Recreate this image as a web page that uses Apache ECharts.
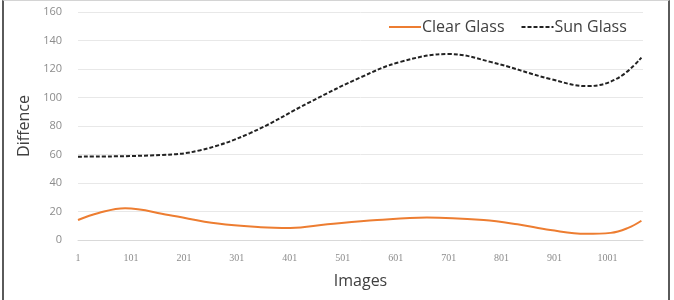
<!DOCTYPE html>
<html>
<head>
<meta charset="utf-8">
<script src="https://cdn.jsdelivr.net/npm/echarts@6/dist/echarts.min.js"></script>
<style>
  body { margin: 0; background: #fff; }
  #wrap { position: relative; width: 674px; height: 300px; }
  #main { width: 674px; height: 300px; }
  #frame {
    position: absolute; left: 2px; top: 0; width: 664px; height: 300px;
    border-left: 2px solid #5a5a5a; border-right: 2px solid #5a5a5a;
    border-top: 1px solid #d4d4d4; pointer-events: none;
  }
</style>
</head>
<body>
<div id="wrap">
  <div id="main"></div>
  <div id="frame"></div>
</div>
<script>
// image index / value pairs
var clearX = [1, 40, 90, 172, 265, 346, 402, 472, 566, 660, 767, 831, 893, 960, 1007, 1040, 1065];
var clearY = [14, 19, 22.3, 17.5, 11.5, 9, 8.5, 11, 14, 15.8, 14, 11, 7, 4.3, 5, 8.5, 13.5];
var sunX = [1, 156, 232, 326, 440, 534, 610, 701, 780, 893, 963, 1020, 1065];
var sunY = [58.5, 59.6, 63, 75, 97, 114, 125, 130.5, 125, 113, 108, 113.5, 128];

function pairs(xs, ys) {
  var out = [];
  for (var i = 0; i < xs.length; i++) out.push([xs[i], ys[i]]);
  return out;
}

var myChart = echarts.init(document.getElementById('main'));
var option = {
  animation: false,
  grid: { left: 78, right: 31, top: 12, bottom: 60 },
  legend: {
    left: 383,
    top: 14,
    itemWidth: 32,
    itemHeight: 14,
    itemGap: 16,
    itemStyle: { opacity: 0 },
    textStyle: { fontSize: 16, color: '#404040', fontFamily: 'Open Sans', padding: [0, 0, 0, -4] },
    data: ['Clear Glass', 'Sun Glass']
  },
  xAxis: {
    type: 'value',
    min: 1,
    max: 1068,
    interval: 100,
    name: 'Images',
    nameLocation: 'middle',
    nameGap: 33,
    nameTextStyle: { fontSize: 16, color: '#404040', fontFamily: 'Open Sans' },
    axisLine: { show: true, lineStyle: { color: '#d9d9d9' } },
    axisTick: { show: false },
    splitLine: { show: false },
    axisLabel: {
      showMaxLabel: false,
      margin: 13,
      fontSize: 10,
      color: '#8c8c8c',
      fontFamily: 'Liberation Serif',
      formatter: function (v) { return String(v); }
    }
  },
  yAxis: {
    type: 'value',
    min: 0,
    max: 160,
    interval: 20,
    name: 'Diffence',
    nameLocation: 'middle',
    nameGap: 38,
    nameTextStyle: { fontSize: 16, color: '#404040', fontFamily: 'Open Sans' },
    axisLine: { show: false },
    axisTick: { show: false },
    axisLabel: { margin: 16, fontSize: 11, color: '#8c8c8c', fontFamily: 'Open Sans' },
    splitLine: { lineStyle: { color: '#e8e8e8' } }
  },
  series: [
    {
      name: 'Clear Glass',
      type: 'line',
      smooth: 0.4,
      symbol: 'none',
      itemStyle: { color: '#ED7D31' },
      lineStyle: { color: '#ED7D31', width: 2 },
      data: pairs(clearX, clearY)
    },
    {
      name: 'Sun Glass',
      type: 'line',
      smooth: 0.4,
      symbol: 'none',
      itemStyle: { color: '#222' },
      lineStyle: { color: '#222', width: 2, type: [4, 2] },
      data: pairs(sunX, sunY)
    }
  ]
};
myChart.setOption(option);
</script>
</body>
</html>
